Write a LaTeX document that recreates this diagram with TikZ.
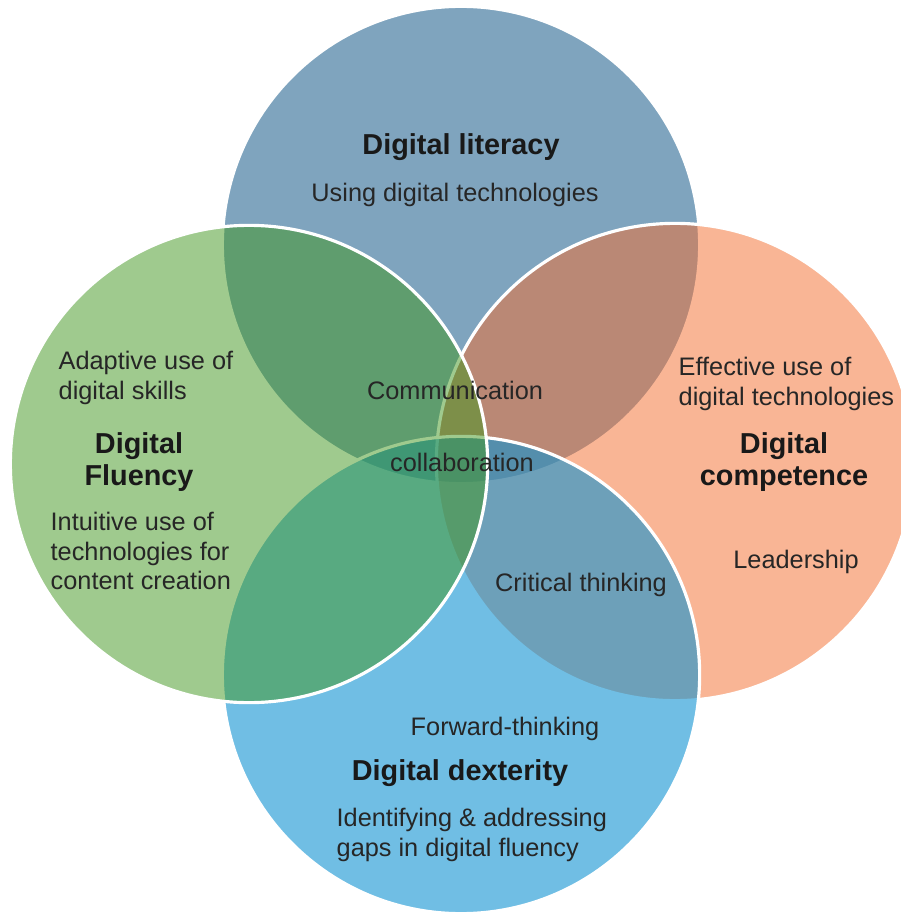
\documentclass[tikz,border=0pt]{standalone}
\usepackage{fontspec}
\setmainfont{Liberation Sans}
\definecolor{litblue}{RGB}{127,164,190}
\definecolor{compsalmon}{RGB}{245,109,45}
\definecolor{dexblue}{RGB}{17,147,210}
\definecolor{fluegreen}{RGB}{65,151,31}
\tikzset{
  venn/.style={circle, draw=white, line width=0.9pt, minimum size=4.77cm, inner sep=0pt},
  title/.style={font=\fontsize{8.2}{9.1}\selectfont\bfseries, align=center, text=black!90},
  body/.style={font=\fontsize{7.2}{8.5}\selectfont, align=center, text=black!85, inner sep=0pt},
  bodyleft/.style={body, align=left}
}
\begin{document}
\begin{tikzpicture}[x=0.01cm, y=-0.01cm]
      \useasboundingbox (0,0) rectangle (901,916);
      \fill[white] (0,0) rectangle (901,916);
      % circles
      \node[venn, fill=litblue] (lit) at (461,245) {};
      \node[venn, fill=compsalmon, fill opacity=0.5] (comp) at (675,462) {};
      \node[venn, fill=dexblue, fill opacity=0.6] (dex) at (461,675) {};
      \node[venn, fill=fluegreen, fill opacity=0.5] (flu) at (249,464) {};
      % texts
      \node[title] (litT) at (461,147) {Digital literacy};
      \node[body] (litA) at (455,195) {Using digital technologies};
      \node[bodyleft, anchor=west] (fluA) at (58,378) {Adaptive use of\\digital skills};
      \node[title] (fluT) at (139,462) {Digital\\Fluency};
      \node[bodyleft, anchor=west] (fluB) at (50,551) {Intuitive use of\\technologies for\\content creation};
      \node[body] (comm) at (455,390) {Communication};
      \node[body] (coll) at (462,462) {collaboration};
      \node[bodyleft, anchor=west] (compA) at (678,384) {Effective use of\\digital technologies};
      \node[title] (compT) at (784,462) {Digital\\competence};
      \node[body] (lead) at (796,562) {Leadership};
      \node[body] (crit) at (581,585) {Critical thinking};
      \node[body] (fwd) at (505,729) {Forward-thinking};
      \node[title] (dexT) at (460,773) {Digital dexterity};
      \node[bodyleft, anchor=west] (dexA) at (336,835) {Identifying \& addressing\\gaps in digital fluency};
\end{tikzpicture}
\end{document}
